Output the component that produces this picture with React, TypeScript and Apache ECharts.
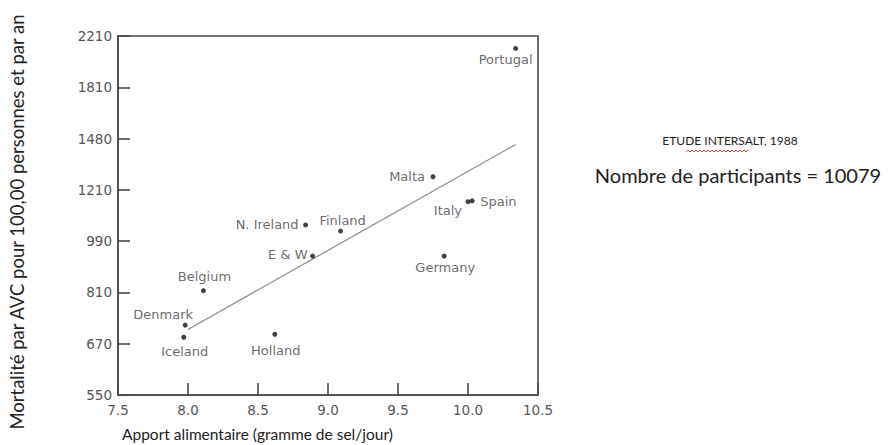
import React, { useEffect, useRef } from "react";
import * as echarts from "echarts";

// ---- data ----
const countries = ["Portugal", "Malta", "Italy", "Spain", "N. Ireland", "Finland", "E & W", "Germany", "Holland", "Belgium", "Denmark", "Iceland"];
const saltIntake = [10.34, 9.75, 10.0, 10.03, 8.84, 9.09, 8.89, 9.83, 8.62, 8.11, 7.98, 7.97];
const strokeMortality = [2106, 1281, 1163, 1167, 1063, 1038, 942, 942, 696, 824, 721, 688];
const yTickLabels = [550, 670, 810, 990, 1210, 1480, 1810, 2210];
const xMin = 7.5;
const xMax = 10.5;
const xStep = 0.5;
const fitX = [8.0, 10.34];
const fitY = [709, 1452];

const yTitle = "Mortalité par AVC pour 100,00 personnes et par an";
const xTitle = "Apport alimentaire (gramme de sel/jour)";
const noteTitle = "ETUDE INTERSALT, 1988";
const noteCount = "Nombre de participants = 10079";

// ---- label placement (style) ----
const labelPlacement: Record<string, { align: string; offset: number[] }> = {
  Portugal: { align: "center", offset: [-10, 11] },
  Malta: { align: "right", offset: [-8, 0] },
  Italy: { align: "right", offset: [-6, 9] },
  Spain: { align: "left", offset: [8, 1] },
  "N. Ireland": { align: "right", offset: [-7, 0] },
  Finland: { align: "center", offset: [2, -11] },
  "E & W": { align: "right", offset: [-5, -2] },
  Germany: { align: "center", offset: [1, 11] },
  Holland: { align: "center", offset: [1, 16] },
  Belgium: { align: "center", offset: [1, -14] },
  Denmark: { align: "center", offset: [-22, -11] },
  Iceland: { align: "center", offset: [1, 14] },
};

// log-scale mapping onto evenly spaced tick slots
const nSlots = yTickLabels.length - 1;
const yLo = yTickLabels[0];
const yHi = yTickLabels[yTickLabels.length - 1];
const toSlot = (v: number) => (nSlots * Math.log(v / yLo)) / Math.log(yHi / yLo);

export default function App() {
  const ref = useRef<HTMLDivElement>(null);

  useEffect(() => {
    if (!ref.current) return;
    const chart = echarts.init(ref.current, undefined, { renderer: "svg" });
    const axisColor = "#4a4a4a";
    const tickFont = { fontFamily: "DejaVu Sans", fontSize: 13.5, color: "#555" };

    const scatterData = countries.map((c, i) => {
      const p = labelPlacement[c];
      return {
        name: c,
        value: [saltIntake[i], toSlot(strokeMortality[i])],
        label: {
          show: true,
          formatter: c,
          position: "inside",
          align: p.align,
          verticalAlign: "middle",
          offset: p.offset,
          fontFamily: "DejaVu Sans",
          fontSize: 13,
          color: "#444",
        },
      };
    });

    // red spell-check squiggle under "INTERSALT"
    const squiggle: number[][] = [];
    for (let x = 686; x <= 748; x += 2) squiggle.push([x, (x / 2) % 2 === 0 ? 150 : 152]);

    chart.setOption({
      animation: false,
      backgroundColor: "#fff",
      grid: {
        left: 118,
        right: 350,
        top: 36,
        bottom: 50,
        show: true,
        borderColor: axisColor,
        borderWidth: 1.6,
        containLabel: false,
      },
      xAxis: {
        type: "value",
        min: xMin,
        max: xMax,
        interval: xStep,
        splitLine: { show: false },
        axisLine: { show: true, lineStyle: { color: axisColor, width: 1.6 } },
        axisTick: { show: true, inside: true, length: 12, lineStyle: { color: axisColor, width: 1.6 } },
        axisLabel: { ...tickFont, margin: 8, formatter: (v: number) => v.toFixed(1) },
      },
      yAxis: {
        type: "value",
        min: 0,
        max: nSlots,
        interval: 1,
        splitLine: { show: false },
        axisLine: { show: true, lineStyle: { color: axisColor, width: 1.6 } },
        axisTick: { show: true, inside: true, length: 12, lineStyle: { color: axisColor, width: 1.6 } },
        axisLabel: { ...tickFont, margin: 6, formatter: (v: number) => String(yTickLabels[Math.round(v)] ?? "") },
      },
      series: [
        {
          type: "line",
          data: fitX.map((x, i) => [x, toSlot(fitY[i])]),
          symbol: "none",
          lineStyle: { color: "#8a8a8a", width: 1.2 },
          silent: true,
          z: 1,
        },
        {
          type: "scatter",
          data: scatterData,
          symbol: "circle",
          symbolSize: 5,
          itemStyle: { color: "#111" },
          z: 2,
        },
      ],
      graphic: [
        {
          type: "text",
          x: 17,
          y: 222,
          rotation: Math.PI / 2,
          style: {
            text: yTitle,
            fontFamily: "Lato",
            fontSize: 18.5,
            fill: "#222",
            textAlign: "center",
            textVerticalAlign: "middle",
          },
        },
        {
          type: "text",
          x: 122,
          y: 434,
          style: {
            text: xTitle,
            fontFamily: "Lato",
            fontSize: 15.5,
            fill: "#222",
            textAlign: "left",
            textVerticalAlign: "middle",
          },
        },
        {
          type: "text",
          x: 730,
          y: 140,
          style: {
            text: noteTitle,
            fontFamily: "Lato",
            fontSize: 12,
            fill: "#222",
            textAlign: "center",
            textVerticalAlign: "middle",
          },
        },
        {
          type: "polyline",
          shape: { points: squiggle },
          style: { stroke: "#e05050", lineWidth: 1, fill: null },
        },
        {
          type: "text",
          x: 738,
          y: 175,
          style: {
            text: noteCount,
            fontFamily: "Lato",
            fontSize: 20,
            fill: "#222",
            textAlign: "center",
            textVerticalAlign: "middle",
          },
        },
      ],
    });

    return () => chart.dispose();
  }, []);

  return (
    <div
      ref={ref}
      style={{ position: "fixed", left: 0, top: 0, width: 888, height: 445, background: "#fff" }}
    />
  );
}
